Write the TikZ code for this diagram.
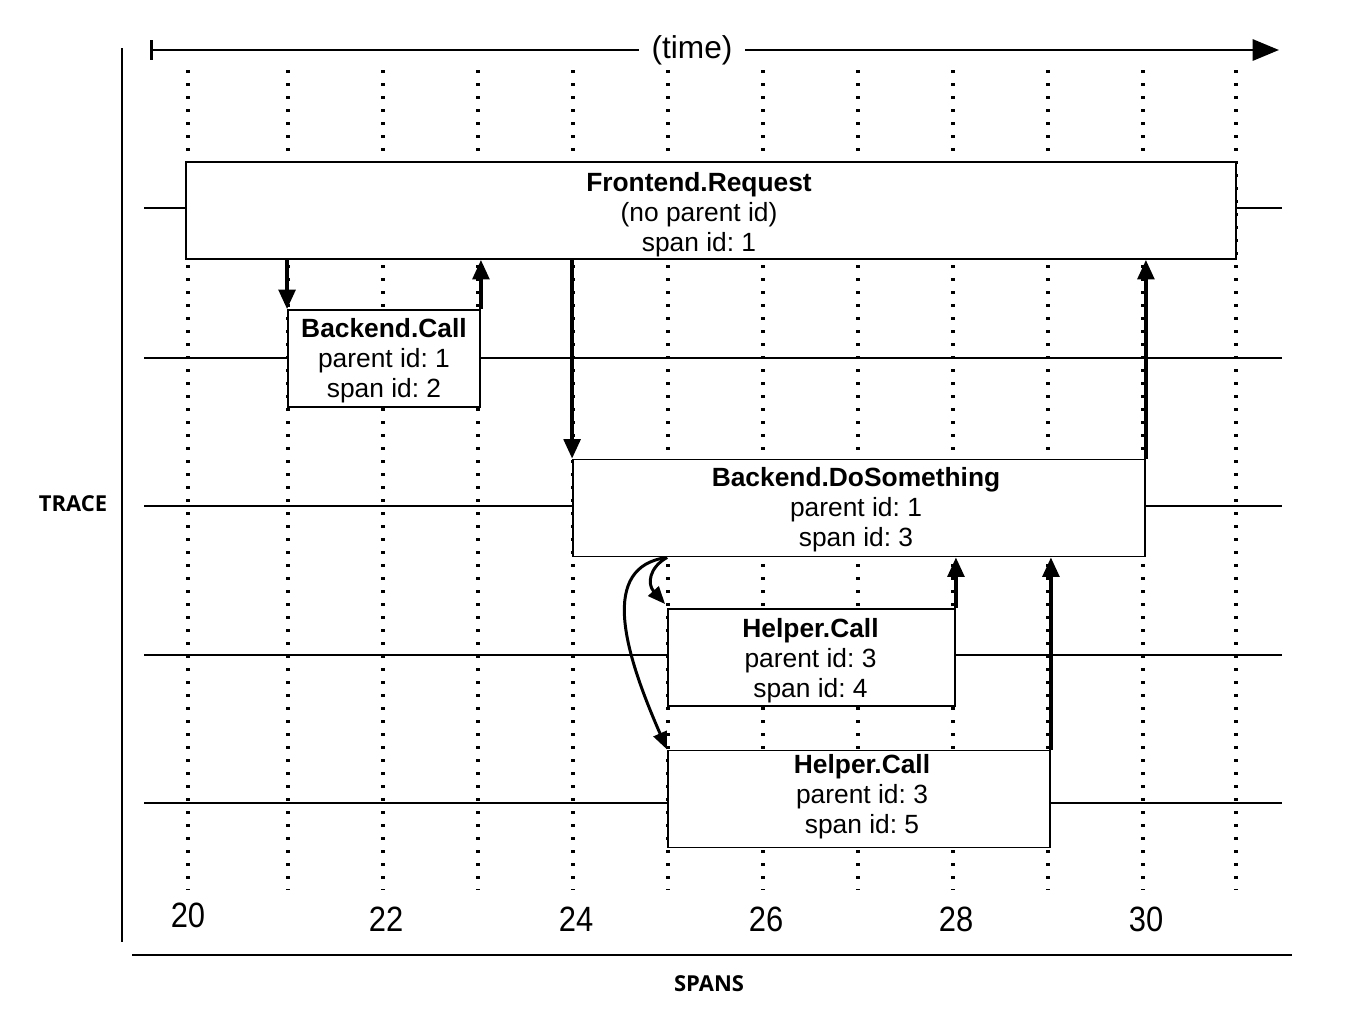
\documentclass[tikz,border=0pt]{standalone}
\usepackage{fontspec}
\setmainfont{Liberation Sans}
\newfontfamily\axisfont{Open Sans}
\newfontfamily\numfont[FakeStretch=0.88]{Liberation Sans}
\usetikzlibrary{arrows.meta}
\frenchspacing
\begin{document}
\begin{tikzpicture}[x=0.02cm,y=-0.02cm,
  spanbox/.style={draw, line width=1.1pt, fill=white, inner sep=0pt, minimum height=1.94cm},
  spantext/.style={inner sep=0pt, align=center, font=\fontsize{15}{17}\selectfont},
  rowline/.style={line width=1.1pt},
  gridline/.style={line width=1.8pt, dash pattern=on 1.8pt off 5.6pt},
  axisline/.style={line width=1.6pt},
  callarrow/.style={line width=1.9pt, -{Triangle[length=11pt,width=9.5pt]}},
  curvearrow/.style={line width=1.7pt, -{Triangle[length=10pt,width=8pt]}},
  ticklabel/.style={font=\numfont\fontsize{20}{22}\selectfont},
  axislabel/.style={font=\axisfont\bfseries\fontsize{12.5}{14}\selectfont}
]
\useasboundingbox (0,0) rectangle (1372,1018);

% dotted time grid
\foreach \x in {188,288,383,478,573,668,763,858,953,1048,1143,1236}
  \draw[gridline] (\x,70) -- (\x,890);

% row lines
\foreach \y in {208,358,506,655,803}
  \draw[rowline] (144,\y) -- (1282,\y);

% spans
\node[spanbox, minimum width=21cm] (fr) at (711,210.5) {};
\node[spantext] (frt) at ([shift={(-12,4)}]fr.center)
  {\textbf{Frontend.Request}\\(no parent id)\\span id: 1};
\node[spanbox, minimum width=3.84cm] (bc) at (384,358.5) {};
\node[spantext] (bct) at ([shift={(0,2)}]bc.center)
  {\textbf{Backend.Call}\\parent id: 1\\span id: 2};
\node[spanbox, minimum width=11.44cm] (ds) at (859,508) {};
\node[spantext] (dst) at ([shift={(-3,2)}]ds.center)
  {\textbf{Backend.DoSomething}\\parent id: 1\\span id: 3};
\node[spanbox, minimum width=5.74cm] (h4) at (811.5,657.5) {};
\node[spantext] (h4t) at ([shift={(-1,3)}]h4.center)
  {\textbf{Helper.Call}\\parent id: 3\\span id: 4};
\node[spanbox, minimum width=7.64cm] (h5) at (859,799) {};
\node[spantext] (h5t) at ([shift={(3,-2)}]h5.center)
  {\textbf{Helper.Call}\\parent id: 3\\span id: 5};

% calls and returns
\draw[callarrow] (fr.south -| bc.north west) -- (bc.north west);
\draw[callarrow] (bc.north east) -- (fr.south -| bc.north east);
\draw[callarrow] (fr.south -| ds.north west) -- (ds.north west);
\draw[callarrow] (ds.north east) -- (fr.south -| ds.north east);
\draw[callarrow] (h4.north east) -- (ds.south -| h4.north east);
\draw[callarrow] (h5.north east) -- (ds.south -| h5.north east);
\draw[curvearrow] (ds.south -| h4.north west)
  .. controls +(-18,10) and +(-18,-20) .. ([shift={(-2,-4)}]h4.north west);
\draw[curvearrow] (ds.south -| h5.north west)
  .. controls +(-68,9) and +(-43,-98) .. (h5.north west);

% axes
\coordinate (ya) at (122,48);
\coordinate (yb) at (122,942);
\coordinate (xa) at (132,955);
\coordinate (xb) at (1292,955);
\draw[axisline] (ya) -- (yb);
\draw[axisline] (xa) -- (xb);

% time arrow
\node[font=\fontsize{18}{20}\selectfont, inner xsep=7pt, inner ysep=0pt] (time) at (692,50) {(time)};
\coordinate (t0) at (150,50);
\coordinate (t1) at (1279,50);
\draw[axisline, {Bar[width=11pt]}-] (t0) -- (time.west);
\draw[axisline, -{Triangle[length=15pt,width=12pt]}] (time.east) -- (t1);

% tick labels
\node[ticklabel] (n20) at (188,915) {20};
\node[ticklabel] (n22) at (386,919) {22};
\node[ticklabel] (n24) at (576,919) {24};
\node[ticklabel] (n26) at (766,919) {26};
\node[ticklabel] (n28) at (956,919) {28};
\node[ticklabel] (n30) at (1146,919) {30};

% axis labels
\node[axislabel] (trace) at (73,504) {TRACE};
\node[axislabel] (spans) at (709,984) {SPANS};
\end{tikzpicture}
\end{document}
